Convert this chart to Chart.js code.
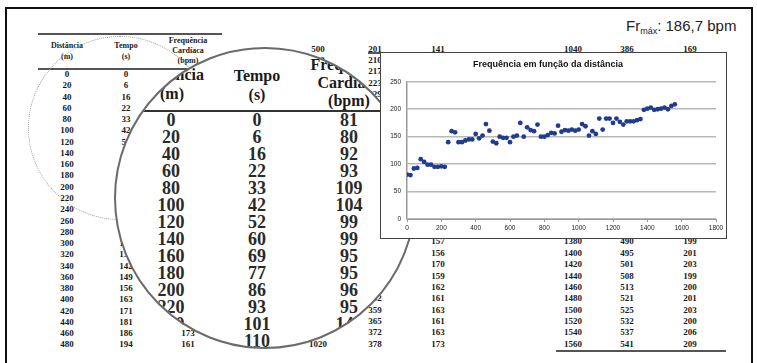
<!DOCTYPE html>
<html><head><meta charset="utf-8">
<script src="https://cdn.jsdelivr.net/npm/chart.js@4.4.0/dist/chart.umd.min.js"></script>
<style>
html,body{margin:0;padding:0;background:#fff;}
body{width:757px;height:363px;position:relative;overflow:hidden;font-family:"Liberation Serif",serif;color:#1a1a1a;}
.abs{position:absolute;}
.c{position:absolute;text-align:center;white-space:nowrap;width:90px;}
.s{font-weight:bold;font-size:9px;line-height:11px;height:11px;}
.sh{font-weight:bold;font-size:8px;line-height:10px;height:10px;}
.b{font-weight:bold;font-size:18px;line-height:18px;height:18px;color:#2a2a2a;}
.bh{font-weight:bold;font-size:16px;line-height:18px;height:18px;}
.rule{position:absolute;background:#555;}
#frame{left:5px;top:7px;width:748px;height:400px;border:2px solid #111;box-sizing:border-box;}
#dots{left:28px;top:36px;width:184px;height:184px;border:1px dotted #999;border-radius:50%;box-sizing:border-box;}
#lens{left:114px;top:47px;width:302px;height:302px;border:2px solid #6a6a6a;border-radius:50%;box-sizing:border-box;background:#fff;overflow:hidden;}
#box{left:380px;top:52px;width:347px;height:187px;border:1.5px solid #444;box-sizing:border-box;background:#fff;}
#cv{position:absolute;left:380px;top:52px;}
#frmax{left:626px;top:17px;font-family:"Liberation Sans",Arial,sans-serif;font-size:15px;color:#222;white-space:nowrap;}
#frmax sub{font-size:9px;vertical-align:-3px;}
</style>
</head><body>
<div id="frame" class="abs"></div>
<div id="small" class="abs" style="left:0;top:0;width:757px;height:363px;"></div>
<div id="dots" class="abs"></div>
<div id="right" class="abs" style="left:0;top:0;width:757px;height:363px;"></div>
<div id="lens" class="abs"></div>
<div id="box" class="abs"></div>
<canvas id="cv" width="347" height="187"></canvas>
<div id="frmax" class="abs">Fr<sub>máx</sub>: 186,7 bpm</div>
<script>
// ---- data ----
const distancia = [0,20,40,60,80,100,120,140,160,180,200,220,240,260,280,300,320,340,360,380,400,420,440,460,480,
  500,520,540,560,580,600,620,640,660,680,700,720,740,760,780,800,820,840,860,880,900,920,940,960,980,1000,1020,
  1040,1060,1080,1100,1120,1140,1160,1180,1200,1220,1240,1260,1280,1300,1320,1340,1360,1380,1400,1420,1440,1460,1480,1500,1520,1540,1560];
const tempo = [0,6,16,22,33,42,52,60,69,77,86,93,101,110,118,126,134,142,149,156,163,171,181,186,194,
  201,210,217,223,229,236,243,250,257,264,271,278,285,292,299,306,313,319,326,332,339,345,352,359,365,372,378,
  386,392,398,405,411,418,424,430,437,443,449,456,462,468,474,480,485,490,495,501,508,513,521,525,532,537,541];
const frequencia = [81,80,92,93,109,104,99,99,95,95,96,95,140,160,158,140,140,143,145,145,155,147,152,173,161,
  141,138,150,148,148,140,150,152,175,150,167,162,160,172,150,150,153,157,156,170,159,162,161,163,161,163,173,
  169,152,160,155,183,163,183,183,175,183,177,172,178,178,178,180,182,199,201,203,199,200,201,203,200,206,209];
const xTickValues = [0,200,400,600,800,1000,1200,1400,1600,1800];
const yTickValues = [0,50,100,150,200,250];
const chartTitle = 'Frequência em função da distância';
const headers = ['Distância','(m)','Tempo','(s)','Frequência','Cardíaca','(bpm)'];

// ---- helpers ----
function cell(parent, text, cx, cy, cls, ox, oy, lh){
  const d=document.createElement('div');
  d.className='c '+cls; d.textContent=text;
  d.style.left=(cx-ox-45)+'px'; d.style.top=(cy-oy-lh/2)+'px';
  parent.appendChild(d);
}
function rule(parent,x1,x2,y,h,ox,oy,col){
  const d=document.createElement('div'); d.className='rule';
  d.style.left=(x1-ox)+'px'; d.style.width=(x2-x1)+'px'; d.style.top=(y-oy)+'px'; d.style.height=h+'px';
  if(col) d.style.background=col;
  parent.appendChild(d);
}

// small left table (rows 0..24)
const small=document.getElementById('small');
rule(small,38,222,33,1.5,0,0);
rule(small,38,222,68,1.5,0,0);
cell(small,headers[0],67,46,'sh',0,0,10); cell(small,headers[1],67,57,'sh',0,0,10);
cell(small,headers[2],126,46,'sh',0,0,10); cell(small,headers[3],126,57,'sh',0,0,10);
cell(small,headers[4],188,41,'sh',0,0,10); cell(small,headers[5],188,51,'sh',0,0,10); cell(small,headers[6],188,61,'sh',0,0,10);
for(let i=0;i<25;i++){
  const y=74.5+i*11.27;
  cell(small,String(distancia[i]),67,y,'s',0,0,11);
  cell(small,String(tempo[i]),126,y,'s',0,0,11);
  cell(small,String(frequencia[i]),188,y,'s',0,0,11);
}

// middle + right tables
const right=document.getElementById('right');
rule(right,368,727,52,1.5,0,0);
rule(right,556,726,350,1.5,0,0);
for(let r=0;r<27;r++){
  const y=49+r*11.35;
  const a=25+r, b=52+r;
  cell(right,String(distancia[a]),318,y,'s',0,0,11);
  cell(right,String(tempo[a]),375,y,'s',0,0,11);
  cell(right,String(frequencia[a]),438,y,'s',0,0,11);
  cell(right,String(distancia[b]),573,y,'s',0,0,11);
  cell(right,String(tempo[b]),627,y,'s',0,0,11);
  cell(right,String(frequencia[b]),690,y,'s',0,0,11);
}

// magnified table inside the lens
const lens=document.getElementById('lens');
const LX=116, LY=49;
cell(lens,headers[0],172,75,'bh',LX,LY,18); cell(lens,headers[1],172,94,'bh',LX,LY,18);
cell(lens,headers[2],257,76,'bh',LX,LY,18); cell(lens,headers[3],257,95,'bh',LX,LY,18);
cell(lens,headers[4],349,65,'bh',LX,LY,18); cell(lens,headers[5],349,83,'bh',LX,LY,18); cell(lens,headers[6],349,101,'bh',LX,LY,18);
rule(lens,100,420,110,2,LX,LY,'#333');
for(let i=0;i<14;i++){
  const y=120+i*17.0;
  cell(lens,String(distancia[i]),171,y,'b',LX,LY,18);
  cell(lens,String(tempo[i]),257,y,'b',LX,LY,18);
  cell(lens,String(frequencia[i]),349,y,'b',LX,LY,18);
}

// ---- chart ----
const pts = distancia.map((d,i)=>({x:d,y:frequencia[i]}));
new Chart(document.getElementById('cv'),{
  type:'scatter',
  data:{datasets:[{data:pts,pointRadius:2.4,pointBackgroundColor:'#1f3c8e',pointBorderWidth:0,pointStyle:'circle'}]},
  options:{
    responsive:false,animation:false,
    layout:{padding:{left:0,right:11,top:0,bottom:0}},
    plugins:{legend:{display:false},tooltip:{enabled:false},
      title:{display:true,text:chartTitle,color:'#111',
        font:{family:'"Liberation Sans", Arial, sans-serif',size:9,weight:'bold'},padding:{top:7,bottom:12}}},
    scales:{
      x:{type:'linear',min:0,max:1800,
        afterBuildTicks(s){s.ticks=xTickValues.map(v=>({value:v}));},
        ticks:{font:{family:'"Liberation Sans", Arial, sans-serif',size:6.5},color:'#222',padding:2,maxRotation:0,
          callback:(v)=>String(v)},
        grid:{drawOnChartArea:false,drawTicks:true,tickLength:3,color:'#999'},
        border:{color:'#999',width:1},
        afterFit(s){s.height=20;}},
      y:{min:0,max:250,
        afterBuildTicks(s){s.ticks=yTickValues.map(v=>({value:v}));},
        ticks:{font:{family:'"Liberation Sans", Arial, sans-serif',size:6.5},color:'#222',padding:6,
          callback:(v)=>String(v)},
        grid:{color:'#b8b8b8',lineWidth:1.5,drawTicks:false},
        border:{color:'#999',width:1.5},
        afterFit(s){s.width=27;}}
    }
  }
});
</script>
</body></html>
